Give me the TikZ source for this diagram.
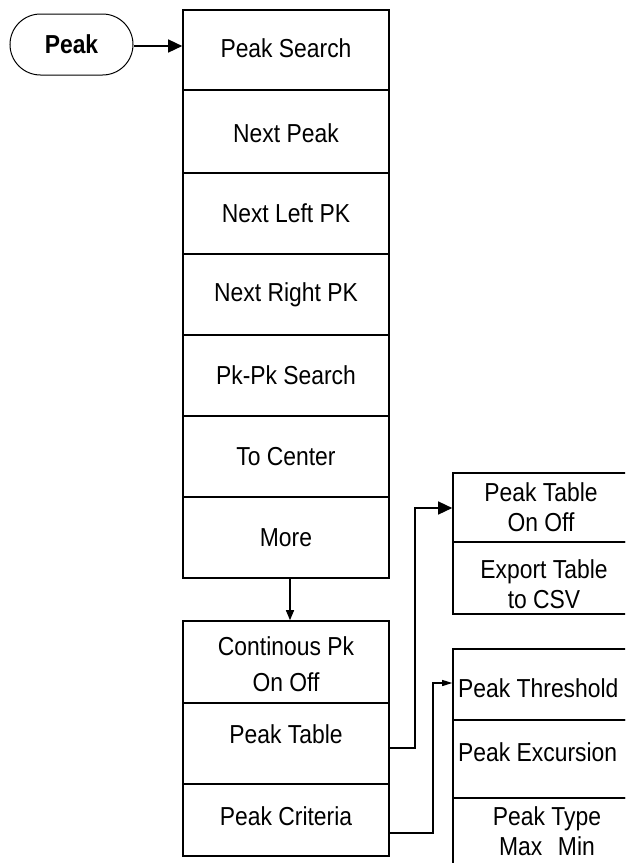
\documentclass[tikz,border=0pt]{standalone}
\usepackage{fontspec}
\setmainfont{Liberation Sans}[FakeStretch=0.88]
\usetikzlibrary{arrows.meta,shapes.misc}
\begin{document}
\begin{tikzpicture}[x=1pt,y=-1pt,
  box/.style={draw,line width=1.6pt,minimum width=206pt,inner sep=0pt},
  rbox/.style={draw,line width=1.6pt,minimum width=187pt,inner sep=0pt},
  txt/.style={font=\fontsize{26}{30}\selectfont,align=center,inner sep=0pt},
  conn/.style={line width=1.4pt},
  bigtip/.style={-{Triangle[length=14pt,width=13pt]}},
  smalltip/.style={-{Triangle[length=10pt,width=6pt]}}]
\clip (0,0) rectangle (625,863);
\fill[white] (0,0) rectangle (625,863);
% start oval
\node[draw,line width=1pt,rounded rectangle,minimum width=123pt,minimum height=61pt,inner sep=0pt,
  font=\fontsize{26}{28}\selectfont\bfseries] (peak) at (71.5,44.5) {Peak};
% main column
\node[box,minimum height=80pt] (ps) at (286,50) {};
\node[box,minimum height=83pt] (np) at (286,131.5) {};
\node[box,minimum height=81pt] (nl) at (286,213.5) {};
\node[box,minimum height=81pt] (nr) at (286,294.5) {};
\node[box,minimum height=81pt] (pp) at (286,375.5) {};
\node[box,minimum height=81pt] (tc) at (286,456.5) {};
\node[box,minimum height=81pt] (mo) at (286,537.5) {};
\node[txt] (tps) at (286,48) {Peak Search};
\node[txt] (tnp) at ([yshift=-2pt]np.center) {Next Peak};
\node[txt] (tnl) at (nl.center) {Next Left PK};
\node[txt] (tnr) at (nr.center) {Next Right PK};
\node[txt] (tpp) at (pp.center) {Pk-Pk Search};
\node[txt] (ttc) at (tc.center) {To Center};
\node[txt] (tmo) at (mo.center) {More};
% lower column
\node[box,minimum height=82pt] (cp) at (286,662) {};
\node[box,minimum height=81pt] (pt) at (286,743.5) {};
\node[box,minimum height=72pt] (pc) at (286,820) {};
\node[txt,font=\fontsize{26}{36}\selectfont] (tcp) at (286,664) {Continous Pk\\On Off};
\node[txt] (tpt) at (286,734) {Peak Table};
\node[txt] (tpc) at (286,816) {Peak Criteria};
% right column (upper)
\node[rbox,minimum height=69pt] (pto) at (546.5,507.5) {};
\node[rbox,minimum height=72pt] (ex) at (546.5,578) {};
\node[txt] (tpto) at (541,507) {Peak Table\\On Off};
\node[txt] (tex) at (544,584) {Export Table\\to CSV};
% right column (lower)
\node[rbox,minimum height=71pt] (pth) at (546.5,684.5) {};
\node[rbox,minimum height=78pt] (pex) at (546.5,759) {};
\node[rbox,minimum height=77pt] (pty) at (546.5,836.5) {};
\node[txt,anchor=west] (tpth) at (458,688) {Peak Threshold};
\node[txt,anchor=west] (tpex) at (458,752) {Peak Excursion};
\node[txt] (tpty) at (547,831) {Peak Type\\Max\hspace{0.6em}Min};
% connectors
\draw[conn,bigtip] (peak.east |- 0,46) -- (ps.west |- 0,46);
\draw[conn,-{Triangle[length=10pt,width=8pt]}] (mo.south -| 290,0) -- (cp.north -| 290,0);
\coordinate (c1) at (415,748);
\coordinate (c2) at (415,508);
\draw[conn,bigtip] (pt.east |- c1) -- (c1) -- (c2) -- (pto.west |- c2);
\coordinate (d1) at (433,833);
\coordinate (d2) at (433,683);
\draw[line width=1.1pt,smalltip] (pc.east |- d1) -- (d1) -- (d2) -- (pth.west |- d2);
\end{tikzpicture}
\end{document}
